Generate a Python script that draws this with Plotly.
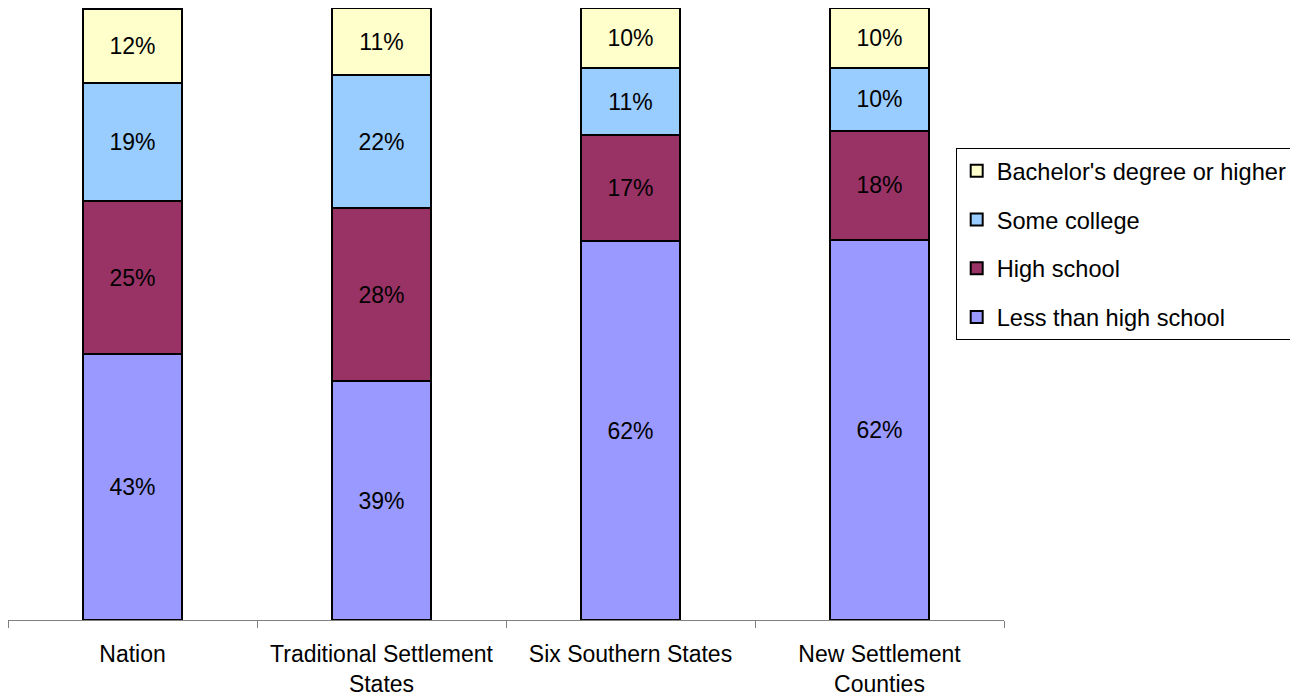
import plotly.graph_objects as go

categories = ["Nation", "Traditional Settlement<br>States", "Six Southern States", "New Settlement<br>Counties"]
less_than_hs = [43.4, 39.0, 61.9, 62.1]
high_school = [25.0, 28.3, 17.3, 17.8]
some_college = [19.4, 21.7, 11.0, 10.3]
bachelors = [12.1, 11.0, 9.8, 9.8]

series = [
    ("Less than high school", less_than_hs, "#9999FF"),
    ("High school", high_school, "#993366"),
    ("Some college", some_college, "#99CCFF"),
    ("Bachelor's degree or higher", bachelors, "#FFFFCC"),
]

FONT = "Liberation Sans, Arial, sans-serif"

fig = go.Figure()
for i, (name, vals, color) in enumerate(series):
    fig.add_trace(go.Bar(
        name=name, x=categories, y=vals,
        marker=dict(color=color, line=dict(color="black", width=2)),
        width=0.4,
        texttemplate="%{y:.0f}%",
        textposition="inside",
        insidetextanchor="middle",
        constraintext="none",
        textfont=dict(family=FONT, size=23, color="black"),
        legendgroup=f"g{i}",
        legendrank=10 - i,
        cliponaxis=False,
    ))

fig.update_layout(
    barmode="stack",
    width=1290, height=688,
    margin=dict(l=0, r=294, t=0, b=76, autoexpand=False),
    paper_bgcolor="white", plot_bgcolor="white",
    font=dict(family=FONT, size=23.6, color="black"),
    showlegend=True,
    legend=dict(
        x=0.9515, y=1 - 140 / 612, xanchor="left", yanchor="top",
        traceorder="grouped",
        tracegroupgap=15,
        bordercolor="black", borderwidth=1,
        bgcolor="white",
        font=dict(family=FONT, size=23.6, color="black"),
    ),
    xaxis=dict(
        showline=True, linecolor="#808080", linewidth=1,
        ticks="outside", tickson="boundaries", ticklen=7, tickcolor="#808080",
        tickfont=dict(family=FONT, size=23, color="black"),
        ticklabelstandoff=13,
        range=[-0.5, 3.5],
        showgrid=False,
    ),
    yaxis=dict(range=[0, 100], visible=False, showgrid=False),
)

fig.write_html("out.html")
